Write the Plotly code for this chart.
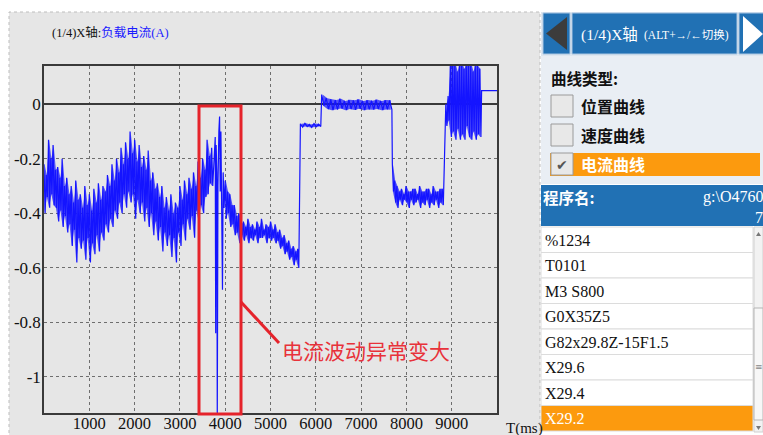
import plotly.graph_objects as go

# ---------------- data ----------------
# noisy segment 0..3700 ms, upper / lower envelope every 50 ms
hi_a = [-0.22, -0.26, -0.13, -0.20, -0.15, -0.24, -0.23, -0.27, -0.20, -0.30,
        -0.27, -0.33, -0.30, -0.36, -0.28, -0.35, -0.33, -0.38, -0.30, -0.37,
        -0.33, -0.39, -0.31, -0.36, -0.29, -0.35, -0.30, -0.32, -0.26, -0.30,
        -0.22, -0.28, -0.20, -0.25, -0.16, -0.22, -0.14, -0.20, -0.10, -0.18,
        -0.13, -0.21, -0.15, -0.23, -0.19, -0.24, -0.17, -0.28, -0.25, -0.31,
        -0.29, -0.34, -0.30, -0.38, -0.34, -0.39, -0.33, -0.40, -0.36, -0.38,
        -0.30, -0.35, -0.28, -0.33, -0.27, -0.31, -0.25, -0.30, -0.21, -0.27,
        -0.20, -0.24, -0.13, -0.19, -0.16]
lo_a = [-0.40, -0.34, -0.38, -0.33, -0.37, -0.38, -0.43, -0.39, -0.45, -0.41,
        -0.47, -0.44, -0.52, -0.46, -0.58, -0.49, -0.53, -0.50, -0.57, -0.49,
        -0.58, -0.51, -0.55, -0.48, -0.54, -0.47, -0.50, -0.44, -0.47, -0.42,
        -0.45, -0.39, -0.42, -0.36, -0.40, -0.33, -0.38, -0.32, -0.36, -0.33,
        -0.42, -0.35, -0.40, -0.36, -0.43, -0.38, -0.45, -0.40, -0.48, -0.43,
        -0.50, -0.45, -0.54, -0.47, -0.52, -0.48, -0.56, -0.49, -0.58, -0.47,
        -0.52, -0.44, -0.50, -0.42, -0.46, -0.41, -0.49, -0.39, -0.43, -0.37,
        -0.40, -0.34, -0.33, -0.29, -0.30]
# abnormal fluctuation (explicit samples)
t_b = [3780, 3790, 3800, 3815, 3825, 3840, 3860, 3876, 3890, 3905, 3920, 3940, 3955, 3975]
v_b = [-0.12, -0.84, -0.15, -0.25, -1.16, -0.30, -0.10, -0.045, -0.32, -0.10, -0.35, -0.68, -0.25, -0.38]
# 4000..5600 ms, every 50 ms
hi_c = [-0.28, -0.32, -0.33, -0.37, -0.37, -0.41, -0.40, -0.44, -0.43, -0.45,
        -0.42, -0.45, -0.44, -0.46, -0.43, -0.45, -0.42, -0.46, -0.44, -0.45,
        -0.43, -0.46, -0.44, -0.47, -0.46, -0.49, -0.48, -0.51, -0.50, -0.53,
        -0.52, -0.54, -0.53]
lo_c = [-0.42, -0.40, -0.45, -0.44, -0.48, -0.47, -0.51, -0.48, -0.50, -0.48,
        -0.51, -0.49, -0.50, -0.48, -0.51, -0.49, -0.49, -0.48, -0.51, -0.49,
        -0.50, -0.49, -0.51, -0.50, -0.53, -0.52, -0.55, -0.54, -0.57, -0.56,
        -0.59, -0.57, -0.60]
# 5660..6060 ms
hi_e = [-0.072, -0.070, -0.074, -0.071, -0.073]
lo_e = [-0.084, -0.082, -0.085, -0.083, -0.082]
# 6130..7630 ms
hi_f = [0.035, 0.022, 0.018, 0.015, 0.020, 0.012, 0.016, 0.014, 0.018, 0.012,
        0.015, 0.013, 0.017, 0.012, 0.015, 0.014]
lo_f = [-0.005, -0.018, -0.022, -0.020, -0.016, -0.022, -0.018, -0.021, -0.017, -0.022,
        -0.019, -0.020, -0.018, -0.022, -0.019, -0.020]
# 7690..8790 ms, every 50 ms
hi_g = [-0.22, -0.28, -0.30, -0.32, -0.31, -0.33, -0.30, -0.32, -0.32, -0.31,
        -0.31, -0.33, -0.30, -0.32, -0.32, -0.31, -0.31, -0.33, -0.30, -0.32,
        -0.32, -0.31, -0.31]
lo_g = [-0.32, -0.36, -0.38, -0.35, -0.37, -0.35, -0.36, -0.38, -0.35, -0.37,
        -0.36, -0.35, -0.38, -0.36, -0.37, -0.35, -0.38, -0.36, -0.37, -0.35,
        -0.38, -0.36, -0.37]
# 8870..9620 ms, every 50 ms
hi_h = [0.00, 0.03, 0.15, 0.14, 0.15, 0.12, 0.15, 0.15, 0.13, 0.15, 0.14, 0.15, 0.12, 0.15, 0.14, 0.13]
lo_h = [-0.08, -0.06, -0.12, -0.10, -0.13, -0.09, -0.13, -0.11, -0.13, -0.08, -0.12, -0.13, -0.10, -0.13, -0.11, -0.12]
# final flat part
t_tail = [9660, 10000]
v_tail = [0.05, 0.05]

x_ticks = [1000, 2000, 3000, 4000, 5000, 6000, 7000, 8000, 9000]
y_ticks = [0, -0.2, -0.4, -0.6, -0.8, -1]
y_ticktext = ["0", "-0.2", "-0.4", "-0.6", "-0.8", "-1"]

program_lines = ["%1234", "T0101", "M3 S800", "G0X35Z5", "G82x29.8Z-15F1.5", "X29.6", "X29.4", "X29.2"]
curve_types = ["位置曲线", "速度曲线", "电流曲线"]

segments = [(0, 50, hi_a, lo_a), (4000, 50, hi_c, lo_c), (5660, 100, hi_e, lo_e),
            (6130, 100, hi_f, lo_f), (7690, 50, hi_g, lo_g), (8870, 50, hi_h, lo_h)]

LINE_BLUE = "#1414ff"
FILL_BLUE = "rgba(20,20,255,0.7)"

fig = go.Figure()

# dense core of each noisy segment (band between the envelopes)
for t0, step, hi, lo in segments:
    tt = [t0 + i * step + step / 4 for i in range(len(hi))]
    fig.add_trace(go.Scatter(x=tt, y=hi, mode="lines", line=dict(width=0, color=LINE_BLUE),
                             hoverinfo="skip", showlegend=False))
    fig.add_trace(go.Scatter(x=tt, y=lo, mode="lines", line=dict(width=0, color=LINE_BLUE),
                             fill="tonexty", fillcolor=FILL_BLUE,
                             hoverinfo="skip", showlegend=False))

# the signal itself
xs, ys = [], []


def add_zigzag(t0, step, hi, lo):
    for i, (h, l) in enumerate(zip(hi, lo)):
        t = t0 + i * step
        xs.extend([t, t + step / 2])
        ys.extend([h, l])


add_zigzag(*segments[0])
xs.extend(t_b); ys.extend(v_b)
for seg in segments[1:]:
    add_zigzag(*seg)
xs.extend(t_tail); ys.extend(v_tail)

fig.add_trace(go.Scatter(x=xs, y=ys, mode="lines",
                         line=dict(color=LINE_BLUE, width=1.2), hoverinfo="skip",
                         showlegend=False))

W, H = 763, 435
L, R, T, B = 44, 497, 66, 413


def px(x):
    return (x - L) / (R - L)


def py(y):
    return (B - y) / (B - T)


shapes = []
annots = []

SERIF = "Liberation Serif, Noto Sans CJK SC"
CJK = "Noto Sans CJK SC"
BLUE = "#2171b4"
ORANGE = "#fc9a0e"


def rect(x0, y0, x1, y1, fill="rgba(0,0,0,0)", line=None, lw=0, layer="above", dash="solid"):
    shapes.append(dict(type="rect", xref="paper", yref="paper",
                       x0=px(x0), x1=px(x1), y0=py(y1), y1=py(y0),
                       fillcolor=fill, layer=layer,
                       line=dict(color=line or "rgba(0,0,0,0)", width=lw, dash=dash)))


def poly(pts, fill):
    d = "M " + " L ".join(f"{px(a):.5f},{py(b):.5f}" for a, b in pts) + " Z"
    shapes.append(dict(type="path", xref="paper", yref="paper", path=d,
                       fillcolor=fill, line=dict(width=0), layer="above"))


def text(x, y, s, size, color="#111", anchor="left", family=SERIF):
    annots.append(dict(xref="paper", yref="paper", x=px(x), y=py(y), text=s,
                       showarrow=False, xanchor=anchor, yanchor="middle",
                       font=dict(size=size, color=color, family=family)))


# left panel background
rect(9, 12, 540, 440, fill="#e6e6e6", line="#bdbdbd", lw=1, layer="below", dash="dot")

# chart title and axis caption
text(50, 32, "(1/4)X轴:<span style='color:#1a1aff'>负载电流(A)</span>", 12.5)
text(504, 428, "T(ms)", 15)

# red highlight
rect(199, 106, 241, 414, line="#e5232b", lw=3)
shapes.append(dict(type="line", xref="paper", yref="paper", x0=px(241), y0=py(302),
                   x1=px(279), y1=py(343), line=dict(color="#e5232b", width=3)))
text(280, 350, "电流波动异常变大", 21, color="#e8323a", family=CJK)

# right panel: header
rect(541, 12, 763, 56, fill="#dde6ef")
rect(543, 13, 570, 54, fill=BLUE, line="#a9c6e2", lw=1)
rect(572, 13, 737, 54, fill=BLUE, line="#a9c6e2", lw=1)
rect(739, 13, 765, 54, fill=BLUE, line="#a9c6e2", lw=1)
poly([(546, 33.5), (567, 17), (567, 50)], "#3c3c3c")
poly([(743, 16), (763, 34), (743, 52)], "#ffffff")
text(579, 34.5, "(1/4)X轴", 15.5, color="white")
text(642, 35, "(ALT+→/←切换)", 11.5, color="white")

# curve type panel
rect(541, 56, 763, 184, fill="#e9eef4")
text(549, 78, "<b>曲线类型:</b>", 15.5, family=CJK)
rect(550, 153, 760, 176, fill=ORANGE)
for i, name in enumerate(curve_types):
    cy = 106 + i * 29
    rect(551, cy - 11, 573, cy + 11, fill="#e8e8e8", line="#9a9a9a", lw=1)
    col = "white" if i == 2 else "#111"
    text(579, cy, "<b>" + name + "</b>", 16, color=col, family=CJK)
text(562, 164.5, "✔", 14, color="#555", anchor="center", family="DejaVu Sans")

# program header
rect(541, 185, 763, 226, fill=BLUE)
text(541, 197, "<b>程序名:</b>", 15.5, color="white", family=CJK)
text(765, 197, "g:\\O4760", 16, color="white", anchor="right")
text(765, 217, "7", 16, color="white", anchor="right")

# program list
row_top = 227
row_h = 25.5
for i, line_txt in enumerate(program_lines):
    y0 = row_top + i * row_h
    last = i == len(program_lines) - 1
    rect(541, y0, 753, y0 + row_h, fill=ORANGE if last else "white",
         line="#dcdcdc", lw=1)
    text(543, y0 + row_h / 2 + 0.5, line_txt, 16, color="white" if last else "#111")

# scrollbar
rect(754, 227, 763, 432, fill="#f2f2f2", line="#d0d0d0", lw=1)
rect(754, 308, 763, 420, fill="#f7f7f7", line="#b5b5b5", lw=1)
poly([(756, 236), (758.5, 232), (761, 236)], "#777")
poly([(756, 426), (758.5, 430), (761, 426)], "#777")
text(758.5, 367, "≡", 9, color="#888", anchor="center", family="DejaVu Sans")

fig.update_layout(
    width=W, height=H,
    margin=dict(l=L, r=W - R, t=T, b=H - B),
    paper_bgcolor="white", plot_bgcolor="#e6e6e6",
    template="none",
    shapes=shapes, annotations=annots,
    xaxis=dict(range=[0, 10000], tickvals=x_ticks, ticktext=[str(v) for v in x_ticks],
               showgrid=True, gridcolor="#6e6e6e", griddash="dot", gridwidth=1,
               zeroline=False, showline=True, mirror=True, linecolor="#3a3a3a",
               linewidth=1.5, ticks="", automargin=False, ticklabelstandoff=-6,
               tickfont=dict(family="Liberation Serif", size=16.5, color="#111")),
    yaxis=dict(range=[-1.132, 0.14], tickvals=y_ticks, ticktext=y_ticktext,
               showgrid=True, gridcolor="#6e6e6e", griddash="dot", gridwidth=1,
               zeroline=True, zerolinecolor="#3a3a3a", zerolinewidth=1.5,
               showline=True, mirror=True, linecolor="#3a3a3a", linewidth=1.5,
               ticks="", automargin=False, ticklabelstandoff=-2,
               tickfont=dict(family="Liberation Serif", size=17, color="#111")),
)

fig.write_html("out.html", config={"displayModeBar": False},
               post_script="document.body.style.margin='0';")
